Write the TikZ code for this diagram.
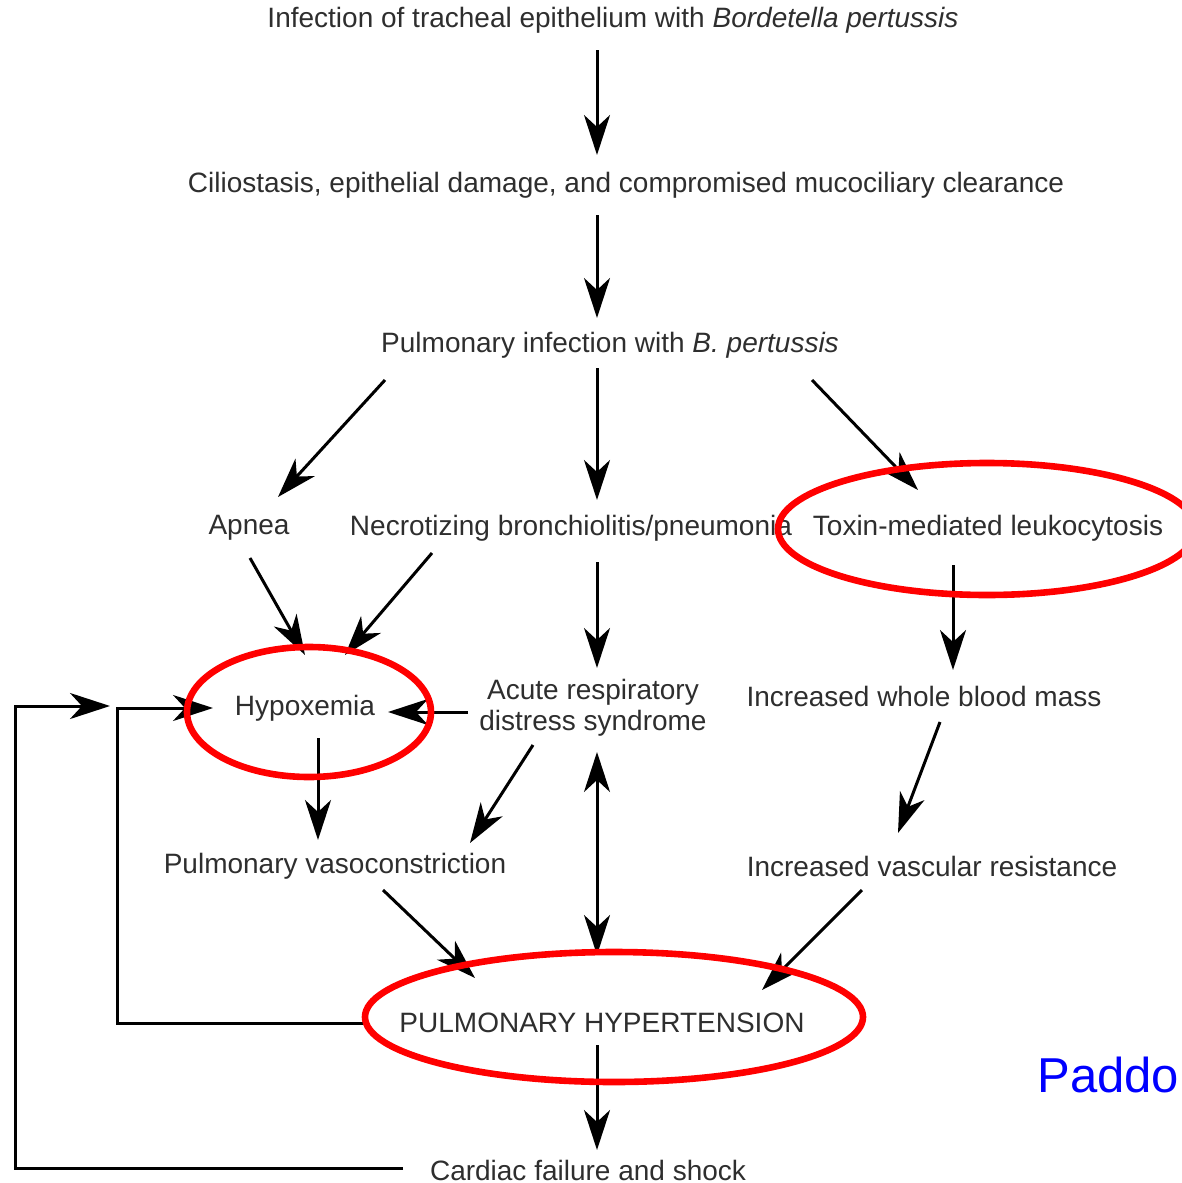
\documentclass[tikz,border=0pt]{standalone}
\usepackage{fontspec}
\setmainfont{Liberation Sans}
\usetikzlibrary{arrows.meta,calc}
\begin{document}
\begin{tikzpicture}[x=0.5pt,y=-0.5pt,
  lbl/.style={inner sep=0pt,text=black!82,font=\fontsize{14}{16}\selectfont,align=center},
  arr/.style={draw=black,line width=1.5pt,-{Stealth[length=20pt,width=13pt,inset=6pt]}},
  darr/.style={draw=black,line width=1.5pt,{Stealth[length=20pt,width=13pt,inset=6pt]}-{Stealth[length=20pt,width=13pt,inset=6pt]}},
  fb/.style={draw=black,line width=1.5pt},
  ring/.style={draw=red,line width=3.3pt}]
\useasboundingbox (0,0) rectangle (1182,1183);
\clip (0,0) rectangle (1182,1183);
\fill[white] (0,0) rectangle (1182,1183);

\node[lbl] (inf) at (613,20) {Infection of tracheal epithelium with \textit{Bordetella pertussis}};
\node[lbl] (cil) at (626,185) {Ciliostasis, epithelial damage, and compromised mucociliary clearance};
\node[lbl] (pi) at (610,345) {Pulmonary infection with \textit{B. pertussis}};
\node[lbl] (apnea) at (249,528) {Apnea};
\node[lbl] (necro) at (571,528) {Necrotizing bronchiolitis/pneumonia};
\node[lbl] (toxin) at (988,528) {Toxin-mediated leukocytosis};
\node[lbl] (hypo) at (305,708) {Hypoxemia};
\node[lbl,font=\fontsize{14}{15.5}\selectfont] (ards) at (593,708) {Acute respiratory\\distress syndrome};
\node[lbl] (iwbm) at (924,696) {Increased whole blood mass};
\node[lbl] (pv) at (335,866) {Pulmonary vasoconstriction};
\node[lbl] (ivr) at (932,866) {Increased vascular resistance};
\node[lbl] (ph) at (602,1023) {PULMONARY HYPERTENSION};
\node[lbl] (cf) at (588,1170) {Cardiac failure and shock};
\node[inner sep=0pt,anchor=west,text=blue,font=\fontsize{24.5}{26}\selectfont] (pad) at (1037,1075) {Paddo};

\draw[arr] ($(inf)+(-16,30)$) -- ($(cil)+(-29,-30)$);
\draw[arr] ($(cil)+(-29,30)$) -- ($(pi)+(-13,-27)$);
\draw[arr] ($(pi)+(-225,35)$) -- ($(apnea)+(29,-31)$);
\draw[arr] ($(pi)+(-13,23)$) -- ($(necro)+(26,-28)$);
\draw[arr] ($(pi)+(202,35)$) -- ($(toxin)+(-70,-38)$);
\draw[arr] ($(apnea)+(1,30)$) -- ($(hypo)+(0,-53)$);
\draw[arr] ($(necro)+(-139,25)$) -- ($(hypo)+(40,-53)$);
\draw[arr] ($(necro)+(26,34)$) -- ($(ards)+(4,-40)$);
\draw[arr] ($(toxin)+(-35,37)$) -- ($(iwbm)+(29,-26)$);
\draw[arr] ($(ards)+(-125,4)$) -- ($(hypo)+(83,4)$);
\draw[arr] ($(hypo)+(13,30)$) -- ($(pv)+(-17,-26)$);
\draw[arr] ($(ards)+(-60,37)$) -- ($(pv)+(135,-23)$);
\draw[darr] ($(ards)+(4,44)$) -- ($(ph)+(-5,-68)$);
\draw[arr] ($(iwbm)+(16,26)$) -- ($(ivr)+(-34,-33)$);
\draw[arr] ($(pv)+(48,24)$) -- ($(ph)+(-127,-45)$);
\draw[arr] ($(ivr)+(-70,24)$) -- ($(ph)+(160,-33)$);
\draw[arr] ($(ph)+(-5,22)$) -- ($(cf)+(9,-20)$);
\draw[arr] ($(ph)+(-237,0)$) -- ++(-248,0) |- ($(hypo)+(-92,0)$);
\coordinate (fbend) at ($(hypo)+(-195,-2)$);
\draw[arr] ($(cf)+(-185,-2)$) -- ++(-388,0) |- (fbend);

\draw[ring] (309,712) ellipse [x radius=61pt, y radius=32.5pt];
\draw[ring] (987,529) ellipse [x radius=104.5pt, y radius=33pt];
\draw[ring] (614,1017) ellipse [x radius=124.5pt, y radius=32.5pt];
\end{tikzpicture}
\end{document}
